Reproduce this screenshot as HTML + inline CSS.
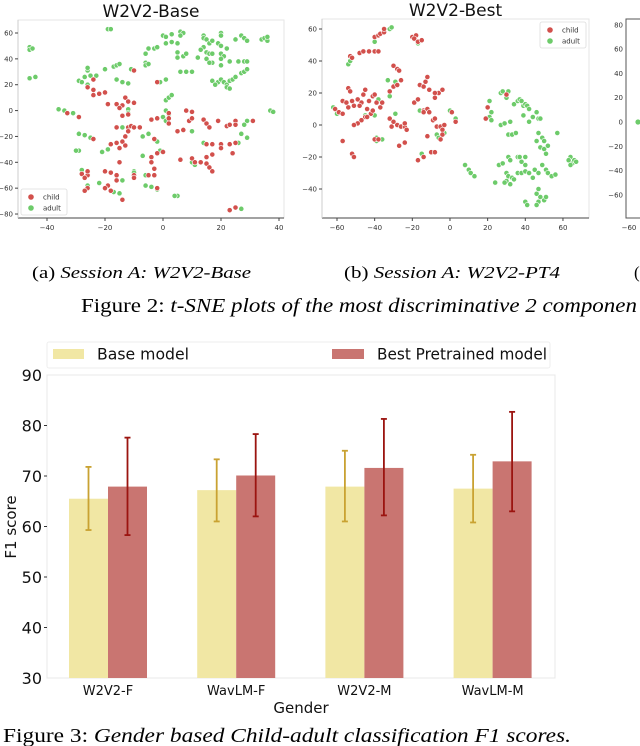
<!DOCTYPE html>
<html><head><meta charset="utf-8"><style>
html,body{margin:0;padding:0;background:#fff;width:640px;height:746px;overflow:hidden}
svg{display:block}
.sans{font-family:"DejaVu Sans","Liberation Sans",sans-serif}
.serif{font-family:"Liberation Serif",serif}
</style></head><body>
<svg id="fig" width="640" height="746" viewBox="0 0 640 746">
<g id="tsne1"></g>
<g id="tsne2"></g>
<g id="tsne3"></g>
<text class="serif" x="32" y="278" font-size="17" textLength="219" lengthAdjust="spacingAndGlyphs">(a) <tspan font-style="italic">Session A: W2V2-Base</tspan></text>
<text class="serif" x="344" y="278" font-size="17" textLength="216" lengthAdjust="spacingAndGlyphs">(b) <tspan font-style="italic">Session A: W2V2-PT4</tspan></text>
<text class="serif" x="634" y="278" font-size="17">(</text>
<text class="serif" x="81" y="312" font-size="20" textLength="556" lengthAdjust="spacingAndGlyphs">Figure 2: <tspan font-style="italic">t-SNE plots of the most discriminative 2 componen</tspan></text>
<g id="bar"></g>
<text class="serif" x="3" y="742" font-size="20" textLength="568" lengthAdjust="spacingAndGlyphs">Figure 3: <tspan font-style="italic">Gender based Child-adult classification F1 scores.</tspan></text>
</svg>
<script>
const NS="http://www.w3.org/2000/svg";
function mk(p,tag,a,txt){const e=document.createElementNS(NS,tag);for(const k in a)e.setAttribute(k,a[k]);if(txt!==undefined)e.textContent=txt;p.appendChild(e);return e;}

// ---------- t-SNE data ----------
const base_child_x=[-10,-24,-2,-26,-24,-22,-24,-20,-19,-16,-14,-15,-13,-12,-10,-14,-12,-33,-29,-4,-2,2,2,2,8,10,9,10,14,15,16,19,22,23,25,25,31,-16,-12,-11,-12,-13,-14,-10,-8,-13,-15,-16,-18,-24,5,7,-3,-4,-2,0,-4,-3,-5,-3,-15,15,17,20,20,23,25,10,11,13,15,17,15,16,17,6,24,-28,-26,-26,-27,-20,-18,-16,-16,-10,-10,-19,-20,-18,-26,-27,-14,-2,23,25];
const base_child_y=[31,24,22,18,16,13,12,14,5,5,4,2,10,7,6,-4,-3,-2,-5,-7,-6,-2,-6,-10,0,-1,-8,-6,-7,-10,-13,-8,-12,-11,-8,-11,-8,-13,-13,-12,-16,-20,-24,-13,-13,-27,-29,-25,-26,-22,-16,-15,-22,-36,-33,-32,-40,-45,-50,-50,-40,-26,-26,-26,-29,-26,-25,-37,-40,-40,-36,-34,-41,-44,-47,-38,-33,-49,-50,-47,-52,-47,-48,-50,-54,-50,-52,-58,-60,-62,-60,-62,-69,-60,-77,-75];
const base_adult_x=[-46,-46,-45,-46,-44,-19,-18,-20,-17,-16,-15,-11,-29,-27,-28,-26,-26,-25,-23,-26,-16,-14,-12,-36,-34,-31,-29,-27,-25,-29,-30,-12,-12,-14,-7,-5,-3,-2,-7,-10,-10,-6,-6,-4,-2,-21,-19,-22,-16,-14,-17,-15,-26,-28,-1,0,1,1,1,2,3,-1,1,0,1,3,-5,-3,-2,1,3,5,5,5,7,8,6,8,10,6,7,6,-6,-6,-6,-5,14,14,15,14,16,17,13,15,16,17,15,12,17,16,20,20,19,20,22,20,21,20,23,20,17,19,20,18,21,22,22,23,23,24,25,27,25,27,28,29,26,28,29,28,29,34,35,36,36,37,38,29,28,27,29,26,14,10,10,11,5,4,27,2];
const base_adult_y=[49,47,48,25,26,63,63,32,34,35,36,32,23,26,22,31,33,27,27,20,24,22,21,1,0,-2,-18,-19,-21,-31,-31,1,-2,-13,-20,-18,-22,-24,-35,-47,-48,-50,-58,-59,-61,-32,-30,-56,-54,-54,-63,-64,-58,-46,-31,-5,-8,0,8,10,12,22,24,58,57,59,48,48,49,52,53,52,45,41,42,44,30,30,30,61,60,58,44,37,35,36,58,56,55,49,52,54,47,45,44,44,40,41,37,37,60,58,52,50,48,44,42,40,38,35,23,22,24,20,22,20,18,17,23,24,26,29,55,58,56,54,38,38,38,30,32,55,56,54,57,0,-1,-8,-11,-18,-21,-25,-25,-16,-40,-42,-66,-66,-76,-3];

const best_child_x=[-40,-38,-37,-35,-35,-20,-18,-19,-17,-15,-53,-52,-48,-46,-43,-40,-38,-30,-28,-27,-32,-30,-28,-26,-54,-53,-57,-55,-52,-54,-51,-49,-47,-46,-45,-43,-41,-40,-39,-37,-36,-48,-44,-42,-41,-61,-59,-57,-45,-44,-47,-49,-51,-32,-30,-28,-26,-24,-24,-23,-31,-27,-24,-40,-38,-57,-52,-51,-16,-14,-13,-12,-11,-19,-17,-14,-12,-11,-14,-12,-9,-8,-6,-8,-4,-8,-7,-5,-4,-3,-4,-5,1,3,-10,-8,-14,-17,19,20,30];
const best_child_y=[55,56,57,58,60,55,56,54,52,53,43,42,45,46,46,46,46,37,35,34,21,24,25,28,23,21,15,14,15,11,12,16,14,19,22,15,18,19,14,11,14,12,10,7,9,10,8,7,5,5,3,1,0,4,2,0,-1,-1,1,-3,-1,-13,-11,-9,-9,-10,-18,-20,25,24,27,30,22,14,16,9,10,8,8,-7,3,4,20,20,22,17,-1,-1,-3,0,-6,-9,8,2,-17,-17,-20,-22,4,11,19];
const best_adult_x=[-32,-31,-40,-17,-54,-53,-33,-29,-32,-38,-62,-60,-45,-40,-39,-39,-36,-29,-16,-15,-7,-6,-3,0,3,8,10,11,13,20,21,22,21,22,27,28,30,31,27,29,32,31,33,35,34,36,37,38,39,40,41,42,39,44,42,46,47,48,47,49,50,46,48,50,52,51,57,31,32,36,38,37,40,40,26,28,30,31,33,32,30,34,36,38,40,42,44,45,47,49,51,52,54,56,24,29,40,41,47,46,48,50,51,47,46,64,65,66,67,63,64];
const best_adult_y=[60,61,52,51,38,40,28,27,18,16,11,7,6,6,-8,-10,-9,7,9,-18,-6,-8,-5,9,4,-25,-28,-30,-32,11,15,8,5,3,20,21,17,21,0,1,2,-6,-6,-5,13,15,16,15,12,13,12,10,6,5,2,8,4,4,-5,-8,-10,-10,-14,-15,-13,-18,-5,-20,-22,-20,-23,-20,-20,-25,-25,-24,-30,-32,-33,-37,-35,-34,-30,-30,-29,-30,-33,-28,-30,-25,-28,-30,-32,-31,-36,-36,-48,-50,-40,-43,-45,-47,-45,-48,-50,-20,-24,-22,-23,-22,-25];

const p1_xticks=[-40,-20,0,20,40];
const p1_yticks=[60,40,20,0,-20,-40,-60,-80];
const p2_xticks=[-60,-40,-20,0,20,40,60];
const p2_yticks=[60,40,20,0,-20,-40];
const p3_yticks=[80,60,40,20,0,-20,-40,-60];

const CHILD="#d2504c", ADULT="#6dcb6a";

function tsne(g,box,xs,ys,xt,yt,child,adult,title,legendPos){
  const [L,T,R,B]=box;
  const fr=mk(g,"rect",{x:L,y:T,width:R-L,height:B-T,fill:"#fff",stroke:"#e6e6e6","stroke-width":1});
  
  
  mk(g,"line",{x1:L,y1:B,x2:R,y2:B,stroke:"#444","stroke-width":1});
  mk(g,"line",{x1:L,y1:T,x2:L,y2:B,stroke:"#ccc","stroke-width":1});
  xt.forEach(v=>{const x=xs(v);mk(g,"line",{x1:x,y1:B,x2:x,y2:B+3,stroke:"#444"});
    const t=mk(g,"text",{x:x,y:B+12,"font-size":7,"text-anchor":"middle",class:"sans",fill:"#333"},v<0?"\u2212"+(-v):String(v));
    });
  yt.forEach(v=>{const y=ys(v);mk(g,"line",{x1:L-3,y1:y,x2:L,y2:y,stroke:"#444"});
    const t=mk(g,"text",{x:L-5,y:y+2.5,"font-size":7,"text-anchor":"end",class:"sans",fill:"#333"},v<0?"\u2212"+(-v):String(v));
    });
  [[adult,ADULT,"adult-point"],[child,CHILD,"child-point"]].forEach(([d,c,n])=>{
    d[0].forEach((vx,i)=>{const p=mk(g,"circle",{cx:xs(vx),cy:ys(d[1][i]),r:2.6,fill:c,stroke:"#fff","stroke-width":0.6});
      });
  });
  if(title){const t=mk(g,"text",{x:(L+R)/2,y:T-3,"font-size":17,"text-anchor":"middle",class:"sans",fill:"#111"},title);
    }
  if(legendPos){const [lx,ly]=legendPos;
    const lg=mk(g,"g",{});
    mk(lg,"rect",{x:lx,y:ly,width:46,height:26,fill:"#fff",stroke:"#ddd","stroke-width":0.8,rx:2});
    mk(lg,"circle",{cx:lx+10,cy:ly+8,r:2.8,fill:CHILD});
    mk(lg,"text",{x:lx+22,y:ly+10.5,"font-size":7,class:"sans",fill:"#333"},"child");
    mk(lg,"circle",{cx:lx+10,cy:ly+19,r:2.8,fill:ADULT});
    mk(lg,"text",{x:lx+22,y:ly+21.5,"font-size":7,class:"sans",fill:"#333"},"adult");}
}
(function(){const g=document.getElementById("tsne1");
  const xs=v=>47+(v+40)*2.9, ys=v=>33+(60-v)*1.293;
  tsne(g,[18,20,284,218],xs,ys,p1_xticks,p1_yticks,[base_child_x,base_child_y],[base_adult_x,base_adult_y],"W2V2-Base",[21,189]);})();
(function(){const g=document.getElementById("tsne2");
  const xs=v=>337+(v+60)*1.883, ys=v=>29+(60-v)*1.6;
  tsne(g,[322,19,589,218],xs,ys,p2_xticks,p2_yticks,[best_child_x,best_child_y],[best_adult_x,best_adult_y],"W2V2-Best",[540,22]);})();
(function(){const g=document.getElementById("tsne3");
  const ys=v=>122-(v)*1.215;
  mk(g,"rect",{x:626,y:19,width:40,height:199,fill:"#fff",stroke:"#555","stroke-width":1});
  p3_yticks.forEach(v=>{const t=mk(g,"text",{x:623,y:ys(v)+2.5,"font-size":7,"text-anchor":"end",class:"sans",fill:"#333"},v<0?"\u2212"+(-v):String(v));
    });
  const t=mk(g,"text",{x:629,y:230,"font-size":7,"text-anchor":"middle",class:"sans",fill:"#333"},"\u221260");
  
  const p=mk(g,"circle",{cx:638,cy:ys(0),r:2.6,fill:ADULT});
  })();

// ---------- Bar chart data ----------
const categories=["W2V2-F","WavLM-F","W2V2-M","WavLM-M"];
const baseVals=[65.5,67.2,67.9,67.5];
const baseLo=[59.3,61.0,61.0,60.8];
const baseHi=[71.8,73.3,75.0,74.2];
const bestVals=[67.9,70.1,71.6,72.9];
const bestLo=[58.3,62.0,62.2,63.0];
const bestHi=[77.6,78.3,81.3,82.7];
const yTicks=[30,40,50,60,70,80,90];

(function(){
  const g=document.getElementById("bar");
  const L=47,R=555,T=375,B=678,ymin=30,ymax=90;
  const y=v=>B-(v-ymin)/(ymax-ymin)*(B-T);
  const xc=i=>L+61+i*128.2;
  const bw=39;
  const fr=mk(g,"rect",{x:L,y:T,width:R-L,height:B-T,fill:"#fff",stroke:"#e8e8e8","stroke-width":1});
  
  yTicks.forEach(v=>{
    if(v!==30&&v!==90) mk(g,"line",{x1:L-3,y1:y(v),x2:L,y2:y(v),stroke:"#333","stroke-width":1});
    const t=mk(g,"text",{x:L-5,y:y(v)+6,"font-size":16,"text-anchor":"end",class:"sans",fill:"#111"},String(v));
    
  });
  categories.forEach((c,i)=>{
    const cx=xc(i);
    const b1=mk(g,"rect",{x:cx-bw,y:y(baseVals[i]),width:bw,height:B-y(baseVals[i]),fill:"#f1e7a4"});
    
    const b2=mk(g,"rect",{x:cx,y:y(bestVals[i]),width:bw,height:B-y(bestVals[i]),fill:"#c97571"});
    
    [[cx-bw/2,baseLo[i],baseHi[i],"#c9a232","errorbar-base"],[cx+bw/2,bestLo[i],bestHi[i],"#9b1410","errorbar-best"]].forEach(([ex,lo,hi,col,n])=>{
      const eg=mk(g,"g",{});
      mk(eg,"line",{x1:ex,y1:y(lo),x2:ex,y2:y(hi),stroke:col,"stroke-width":1.8});
      mk(eg,"line",{x1:ex-3,y1:y(lo),x2:ex+3,y2:y(lo),stroke:col,"stroke-width":1.8});
      mk(eg,"line",{x1:ex-3,y1:y(hi),x2:ex+3,y2:y(hi),stroke:col,"stroke-width":1.8});
    });
    const t=mk(g,"text",{x:cx,y:B+17,"font-size":13,"text-anchor":"middle",class:"sans",fill:"#111"},c);
    
  });
  const xl=mk(g,"text",{x:(L+R)/2,y:B+35,"font-size":15,"text-anchor":"middle",class:"sans",fill:"#111"},"Gender");
  
  const yl=mk(g,"text",{x:0,y:0,"font-size":15,"text-anchor":"middle",class:"sans",fill:"#111",transform:"translate(16,527) rotate(-90)"},"F1 score");
  
  const lg=mk(g,"g",{});
  mk(lg,"rect",{x:L,y:342,width:R-L-5,height:26,fill:"#fff",stroke:"#eee","stroke-width":1,rx:2});
  const e1=mk(lg,"g",{});
  mk(e1,"rect",{x:53,y:349,width:31,height:10,fill:"#f1e7a4"});
  mk(e1,"text",{x:97,y:359.5,"font-size":16,class:"sans",fill:"#111",textLength:"92",lengthAdjust:"spacingAndGlyphs"},"Base model");
  const e2=mk(lg,"g",{});
  mk(e2,"rect",{x:332,y:349,width:32,height:10,fill:"#c97571"});
  mk(e2,"text",{x:377,y:359.5,"font-size":16,class:"sans",fill:"#111",textLength:"170",lengthAdjust:"spacingAndGlyphs"},"Best Pretrained model");
})();
</script>
</body></html>
